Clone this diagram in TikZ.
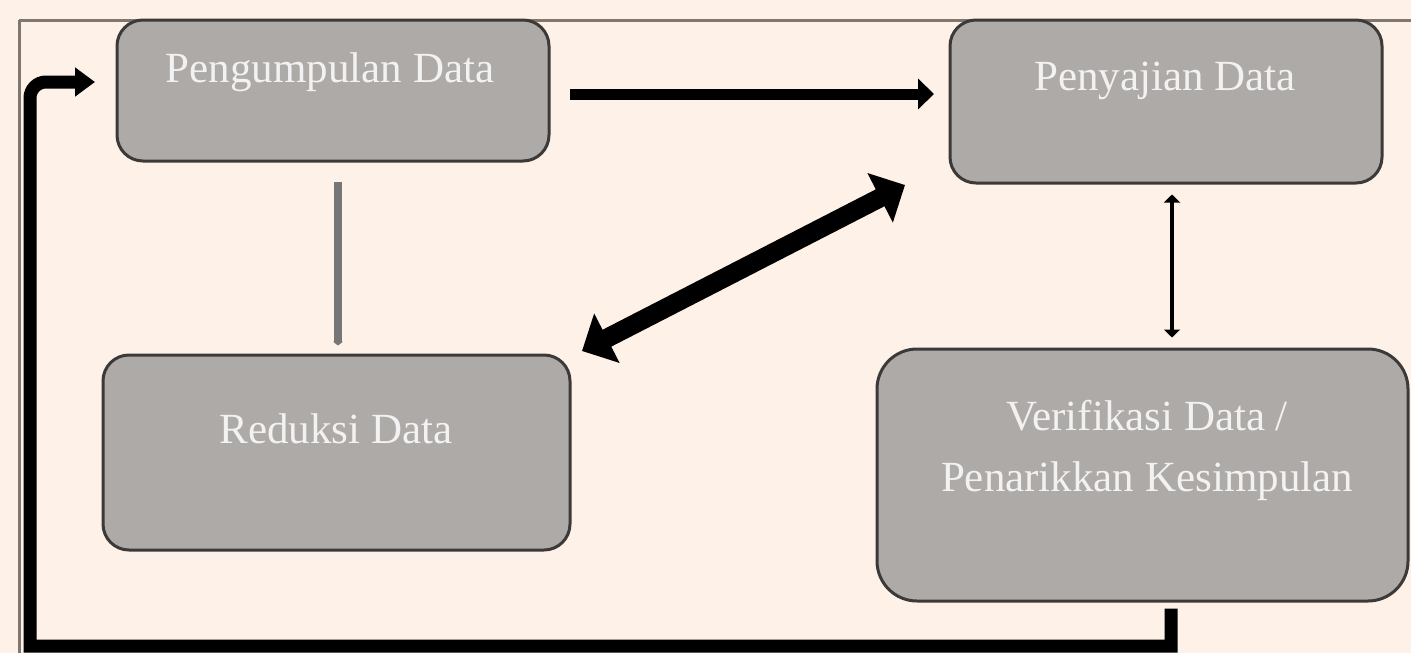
\documentclass[tikz,border=0pt]{standalone}
\usepackage{fontspec}
\setmainfont{Liberation Serif}
\usetikzlibrary{arrows.meta}
\definecolor{bg}{HTML}{FEF1E7}
\definecolor{boxfill}{HTML}{AEAAA8}
\definecolor{boxline}{HTML}{3C3A38}
\definecolor{frameline}{HTML}{807870}
\definecolor{txt}{HTML}{F2F2F2}
\definecolor{greyarrow}{HTML}{767676}
\tikzset{
  procbox/.style={draw=boxline, line width=1.5pt, fill=boxfill, rounded corners=13pt, inner sep=0pt},
  bigbox/.style={procbox, rounded corners=20pt},
  boxtext/.style={text=txt, font=\fontsize{21.5}{30.5}\selectfont, inner sep=0pt, align=center},
  frame/.style={draw=frameline, line width=1.5pt},
}
\begin{document}
\begin{tikzpicture}[x=0.5pt,y=-0.5pt]
\useasboundingbox (0,0) rectangle (1411,653);
\clip (0,0) rectangle (1411,653);
\fill[bg] (0,0) rectangle (1411,653);
% frame lines
\draw[frame] (19,20) -- (1411,20);
\draw[frame] (19,20) -- (19,653);
% boxes
\node[procbox, minimum width=216pt, minimum height=70.5pt] (peng) at (333,90.5) {};
\node[procbox, minimum width=216pt, minimum height=81.5pt] (peny) at (1166,101.5) {};
\node[procbox, minimum width=233.5pt, minimum height=97.5pt] (red) at (336.5,452.5) {};
\node[bigbox, minimum width=265.5pt, minimum height=126pt] (ver) at (1142.5,475) {};
% texts
\node[boxtext, anchor=base] (pengT) at (330,82) {Pengumpulan Data};
\node[boxtext, anchor=base] (penyT) at (1165,90) {Penyajian Data};
\node[boxtext, anchor=base] (redT) at (336,443) {Reduksi Data};
\node[boxtext, anchor=base] (verT) at (1147,430) {Verifikasi Data /};
\node[boxtext, anchor=base] (verT2) at (1147,491) {Penarikkan Kesimpulan};
% connectors
\coordinate (h1) at (570,94);
\coordinate (h2) at (934,94);
\draw[line width=5.5pt, -{Triangle[length=8pt,width=15pt]}] (h1) -- (h2);
\draw[greyarrow, line width=4pt, -{Triangle[length=2pt,width=5pt]}] ([yshift=-9.5pt]peng.south -| 338,0) -- ([yshift=4pt]red.north -| 338,0);
\coordinate (d1) at (582,351);
\coordinate (d2) at (905,185);
\draw[line width=9.5pt, {Triangle[length=14pt,width=27pt]}-{Triangle[length=14pt,width=27pt]}] (d1) -- (d2);
\draw[line width=2pt, {Triangle[length=4pt,width=8pt]}-{Triangle[length=4pt,width=8pt]}] ([yshift=-5pt]peny.south -| 1172,0) -- ([yshift=5pt]ver.north -| 1172,0);
% feedback loop
\coordinate (l1) at (1171,646);
\coordinate (l2) at (30,646);
\coordinate (l3) at (30,82);
\coordinate (l4) at (95,82);
\draw[line width=6.5pt, -{Triangle[length=10pt,width=14pt]}]
  ([yshift=-3pt]ver.south -| 1171,0) -- (l1) -- (l2) [rounded corners=8pt] -- (l3) -- (l4);
\end{tikzpicture}
\end{document}
